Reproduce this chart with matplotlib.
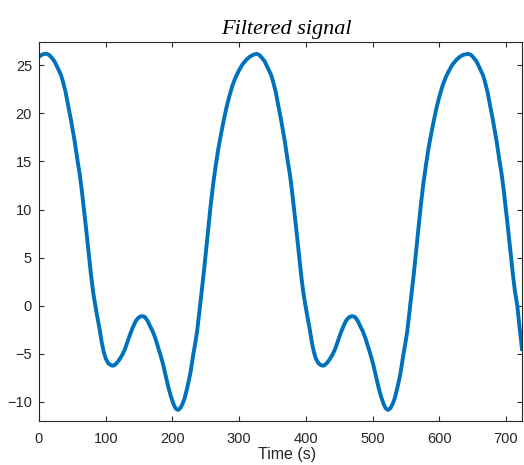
import matplotlib
matplotlib.use("Agg")
import matplotlib.pyplot as plt

# Filtered signal (time in s, value)
time_s = [
    0, 4, 8, 11, 15, 19, 23.5, 29, 33, 36, 40, 43.5, 48, 53.5, 58, 61, 64, 67, 70, 72.5, 75,
    78, 81, 84, 87, 91, 94, 97, 100, 104, 108, 111, 114, 118, 121, 125, 129, 133, 137, 141, 145,
    149, 153, 156, 159, 163, 167, 170, 174, 178, 182, 186, 190, 194, 198, 202, 205, 208.5, 212, 215, 218,
    221, 224, 227, 231, 234, 237, 240, 243, 247, 252, 257, 261, 265, 269, 273, 277, 281, 285, 290, 295,
    300, 305, 311, 316, 321, 326,
    330, 334, 338.5, 344, 348, 351, 355, 358.5, 363, 368.5, 373, 376, 379, 382, 385, 387.5, 390, 393, 396, 399, 402,
    406, 409, 412, 415, 419, 423, 426, 429, 433, 436, 440, 444, 448, 452, 456, 460, 464, 468, 471, 474,
    478, 482, 485, 489, 493, 497, 501, 505, 509, 513, 517, 520, 523.5, 527, 530, 533, 536, 539, 542, 546,
    549, 552, 555, 558, 562, 567, 572, 576, 580, 584, 588, 592, 596, 600, 605, 610, 615, 620, 626, 631,
    636, 643.5,
    647.5, 651.5, 656, 661.5, 665.5, 668.5, 672.5, 676, 680.5, 686, 690.5, 693.5, 696.5, 699.5, 702.5, 705, 707.5,
    710.5, 713.5, 717, 720, 724,
]
signal = [
    25.9, 26.1, 26.2, 26.2, 26.1, 25.8, 25.4, 24.6, 24.0, 23.3, 22.2, 20.9, 19.3, 17.1, 15.0, 13.7, 12.1, 10.3, 8.4, 6.8, 5.1,
    3.2, 1.5, 0.2, -1.0, -2.5, -3.8, -4.8, -5.5, -6.0, -6.2, -6.25, -6.15, -5.85, -5.55, -5.1, -4.5, -3.7, -2.9, -2.2, -1.6,
    -1.25, -1.1, -1.1, -1.2, -1.6, -2.2, -2.6, -3.3, -4.2, -5.1, -6.1, -7.3, -8.5, -9.5, -10.3, -10.7, -10.85, -10.65, -10.25, -9.7,
    -8.9, -8.0, -7.0, -5.2, -4.0, -2.7, -0.9, 0.8, 3.4, 6.8, 10.2, 12.6, 14.6, 16.4, 17.9, 19.3, 20.6, 21.7, 22.9, 23.8,
    24.5, 25.1, 25.6, 25.9, 26.1, 26.2,
    26.1, 25.8, 25.4, 24.6, 24.0, 23.3, 22.2, 20.9, 19.3, 17.1, 15.0, 13.7, 12.1, 10.3, 8.4, 6.8, 5.1, 3.2, 1.5, 0.2, -1.0,
    -2.5, -3.8, -4.8, -5.5, -6.0, -6.2, -6.25, -6.15, -5.85, -5.55, -5.1, -4.5, -3.7, -2.9, -2.2, -1.6, -1.25, -1.1, -1.1, -1.2,
    -1.6, -2.2, -2.6, -3.3, -4.2, -5.1, -6.1, -7.3, -8.5, -9.5, -10.3, -10.7, -10.85, -10.65, -10.25, -9.7, -8.9, -8.0, -7.0, -5.2,
    -4.0, -2.7, -0.9, 0.8, 3.4, 6.8, 10.2, 12.6, 14.6, 16.4, 17.9, 19.3, 20.6, 21.7, 22.9, 23.8, 24.5, 25.1, 25.6, 25.9,
    26.1, 26.2,
    26.1, 25.8, 25.4, 24.6, 24.0, 23.3, 22.2, 20.9, 19.3, 17.1, 15.0, 13.7, 12.1, 10.3, 8.4, 6.8, 5.1,
    3.2, 1.5, 0.0, -2.0, -4.5,
]

x_ticks = [0, 100, 200, 300, 400, 500, 600, 700]
y_ticks = [-10, -5, 0, 5, 10, 15, 20, 25]
title_text = "Filtered signal"
xlabel_text = "Time (s)"

line_color = "#0072BD"
axis_color = "#262626"

fig = plt.figure(figsize=(5.24, 4.65), dpi=100)
ax = fig.add_axes([0.0744, 0.0946, 0.9217, 0.8144])
ax.plot(time_s, signal, color=line_color, linewidth=2.8, solid_joinstyle="round")

ax.set_xlim(0, 724)
ax.set_ylim(-12, 27.4)
ax.set_xticks(x_ticks)
ax.set_yticks(y_ticks)
ax.tick_params(axis="x", pad=8)
ax.tick_params(axis="y", pad=5)
ax.tick_params(direction="in", length=3.6, width=0.8, colors=axis_color,
               top=True, right=True, labelsize=10.5)
for lab in ax.get_xticklabels() + ax.get_yticklabels():
    lab.set_family("Liberation Sans")
for sp in ax.spines.values():
    sp.set_color(axis_color)
    sp.set_linewidth(0.8)

ax.set_xlabel(xlabel_text, family="Liberation Sans", fontsize=11.5, color=axis_color, labelpad=2)
ax.xaxis.set_label_coords(0.513, -0.068)
ax.set_title(title_text, family="Liberation Serif", style="italic", fontsize=16,
             color="black", pad=6, x=0.513)

fig.savefig("out.png", dpi=100)
